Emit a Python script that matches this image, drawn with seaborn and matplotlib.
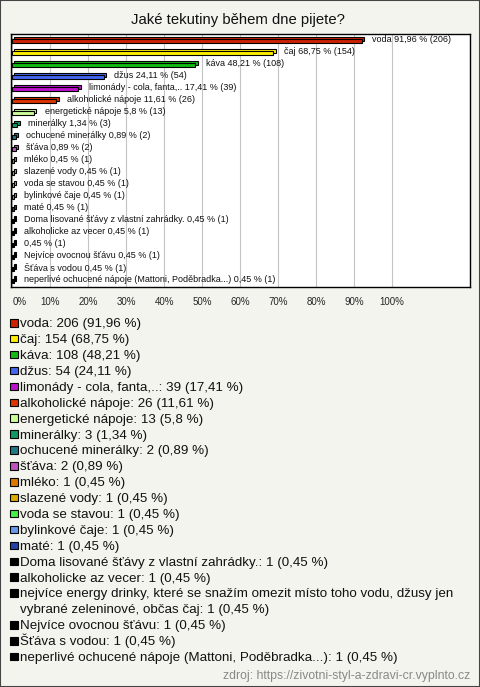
import numpy as np
import pandas as pd
import matplotlib
matplotlib.use('Agg')
import matplotlib.pyplot as plt
from matplotlib.patches import Rectangle
import seaborn as sns

# data
names = ['voda', 'čaj', 'káva', 'džus', 'limonády - cola, fanta,..', 'alkoholické nápoje',
         'energetické nápoje', 'minerálky', 'ochucené minerálky', 'šťáva', 'mléko',
         'slazené vody', 'voda se stavou', 'bylinkové čaje', 'maté',
         'Doma lisované šťávy z vlastní zahrádky.', 'alkoholicke az vecer',
         'nejvíce energy drinky, které se snažím omezit místo toho vodu, džusy jen\nvybrané zeleninové, občas čaj',
         'Nejvíce ovocnou šťávu', 'Šťáva s vodou', 'neperlivé ochucené nápoje (Mattoni, Poděbradka...)']
bar_names = names[:17] + [''] + names[18:]
counts = [206, 154, 108, 54, 39, 26, 13, 3, 2, 2, 1, 1, 1, 1, 1, 1, 1, 1, 1, 1, 1]
pcts = [91.96, 68.75, 48.21, 24.11, 17.41, 11.61, 5.8, 1.34, 0.89, 0.89,
        0.45, 0.45, 0.45, 0.45, 0.45, 0.45, 0.45, 0.45, 0.45, 0.45, 0.45]
pct_text = ['91,96', '68,75', '48,21', '24,11', '17,41', '11,61', '5,8', '1,34', '0,89', '0,89'] + ['0,45'] * 11
colors = ['#cc2200', '#ffee00', '#11bb11', '#4466ee', '#bb11cc', '#dd3300', '#ccff99',
          '#119966', '#227788', '#bb55bb', '#dd7700', '#ddaa00', '#44ee44', '#6699ee',
          '#2244aa'] + ['#000000'] * 6
xticks = list(range(0, 101, 10))

df = pd.DataFrame({'name': names, 'pct': pcts})

sns.set_theme(style='white')
plt.rcParams['font.family'] = ['Liberation Sans', 'DejaVu Sans']
bg = '#f4f4ee'

fig = plt.figure(figsize=(4.8, 6.87), dpi=100, facecolor=bg)
ax = fig.add_axes([11 / 480, 1 - 287 / 687, 459 / 480, 253 / 687])
ax.set_facecolor('white')

n = len(names)
h = 0.36
dx, dy = 0.6, 0.2
# back face for the 3d look
ax.barh(np.arange(n) - dy, pcts, left=dx, height=h, color=colors,
        edgecolor='black', linewidth=0.8, zorder=2)
sns.barplot(data=df, x='pct', y='name', hue='name', palette=colors, legend=False,
            orient='h', width=h, edgecolor='black', linewidth=0.8, saturation=1,
            ax=ax, zorder=3)

for i in range(n):
    lbl = (bar_names[i] + ' ' if bar_names[i] else '') + pct_text[i] + ' % (' + str(counts[i]) + ')'
    ax.annotate(lbl, xy=(pcts[i] + dx, i - 0.1), xytext=(6, 0), textcoords='offset points',
                va='center', ha='left', fontsize=6.5, color='#111111', zorder=4)

ax.set_xlim(-0.3, 120.5)
ax.set_ylim(n - 0.5, -0.6)
ax.set_xticks(xticks)
ax.set_xticklabels([f'{v}%' for v in xticks], fontsize=7)
ax.get_xticklabels()[0].set_horizontalalignment('left')
ax.tick_params(axis='x', length=0, pad=7)
ax.set_yticks([])
ax.set_xlabel('')
ax.set_ylabel('')
ax.grid(axis='x', color='#c4c4c4', linewidth=0.8, zorder=0)
ax.set_axisbelow(True)
for s in ax.spines.values():
    s.set_color('black')
    s.set_linewidth(1)

fig.text(238 / 480, 1 - 20 / 687, 'Jaké tekutiny během dne pijete?', ha='center', va='center',
         fontsize=10.7, color='#111111')

# legend drawn in pixel space
lax = fig.add_axes([0, 0, 1, 1])
lax.set_xlim(0, 480)
lax.set_ylim(687, 0)
lax.axis('off')
line = 0
step = 15.9
for i in range(n):
    y = 323 + step * line
    lax.add_patch(Rectangle((10, y - 4), 7.5, 7.5, facecolor=colors[i], edgecolor='black', linewidth=0.8))
    parts = names[i].split('\n')
    parts[-1] = parts[-1] + f': {counts[i]} ({pct_text[i]} %)'
    for p in parts:
        lax.text(20, 323 + step * line + 4.2, p, va='baseline', ha='left', fontsize=9.6, color='#111111')
        line += 1

fig.text(470 / 480, 1 - 676 / 687, 'zdroj: https://zivotni-styl-a-zdravi-cr.vyplnto.cz',
         ha='right', va='center', fontsize=8.8, color='#888888')
fig.patches.append(Rectangle((0, 0), 1, 1, transform=fig.transFigure, fill=False,
                             edgecolor='#444444', linewidth=1.5))

fig.savefig('out.png', dpi=100, facecolor=bg)
